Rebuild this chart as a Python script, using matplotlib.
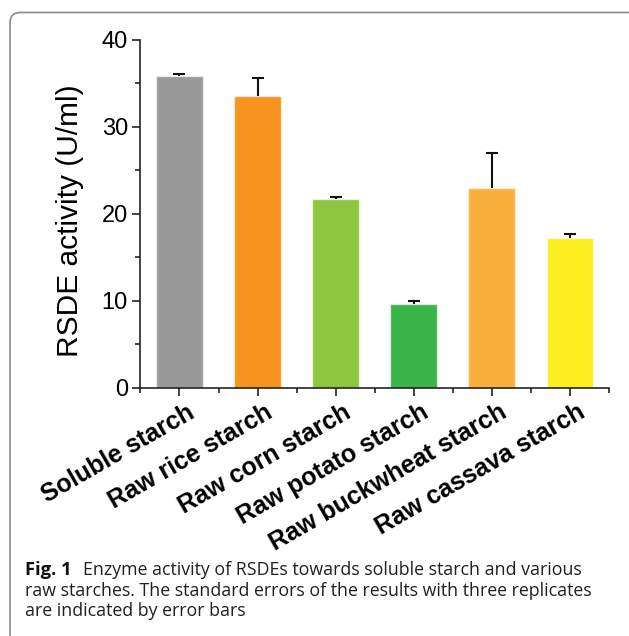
import matplotlib
matplotlib.use("Agg")
import matplotlib.pyplot as plt
import matplotlib.transforms as mtransforms
from matplotlib.patches import FancyBboxPatch
import numpy as np

categories = ["Soluble starch", "Raw rice starch", "Raw corn starch",
              "Raw potato starch", "Raw buckwheat starch", "Raw cassava starch"]
activity = [35.9, 33.6, 21.75, 9.65, 22.95, 17.2]
std_err = [0.2, 2.0, 0.15, 0.3, 4.05, 0.5]
bar_colors = ["#999999", "#F7931E", "#8DC63F", "#39B54A", "#FBB03B", "#FCEE21"]
y_ticks = [0, 10, 20, 30, 40]
y_label = "RSDE activity (U/ml)"
caption_bold = "Fig. 1"
caption_lines = ["Enzyme activity of RSDEs towards soluble starch and various",
                 "raw starches. The standard errors of the results with three replicates",
                 "are indicated by error bars"]

W, H = 629, 636
fig = plt.figure(figsize=(W / 100, H / 100), dpi=100)
plt.rcParams['font.family'] = ['Liberation Sans', 'DejaVu Sans']

# rounded border
border = FancyBboxPatch((10 / W, -0.1), 1.2, 1 - 12.5 / H + 0.1,
                        boxstyle="round,pad=0,rounding_size=0.016",
                        transform=fig.transFigure, fill=False,
                        edgecolor="#8a8a8a", linewidth=1.2, clip_on=False)
fig.patches.append(border)

ax = fig.add_axes([140.4 / W, 1 - 387.7 / H, (609 - 140.4) / W, (387.7 - 40) / H])
x = np.arange(len(categories))
ax.bar(x, activity, width=0.6, color=bar_colors, edgecolor=(1, 1, 1, 0.6),
       linewidth=1.0, zorder=2)
eb = ax.errorbar(x, activity, yerr=[np.zeros(len(activity)), std_err], fmt='none',
                 ecolor='#111111', elinewidth=1.5, capsize=4.6, capthick=1.5, zorder=3)
eb[1][0].set_visible(False)

ax.set_xlim(-0.5, 5.5)
ax.set_ylim(0, 40)
ax.set_yticks(y_ticks)
ax.set_yticks([5, 15, 25, 35], minor=True)
ax.set_xticks(x)
ax.set_xticks(np.arange(-0.5, 6.0, 1.0), minor=True)
for s in ['top', 'right']:
    ax.spines[s].set_visible(False)
for s in ['left', 'bottom']:
    ax.spines[s].set_linewidth(1.2)
    ax.spines[s].set_color('#222222')
ax.tick_params(axis='both', which='major', direction='out', length=6, width=1.2,
               color='#222222')
ax.tick_params(axis='both', which='minor', direction='out', length=3.5, width=1.2,
               color='#222222')
ax.tick_params(axis='y', labelsize=17, pad=3)
ax.set_xticklabels(categories, rotation=30, ha='right', rotation_mode='anchor',
                   fontsize=18, fontweight='bold', va='top')
ax.tick_params(axis='x', pad=3)
offset = mtransforms.ScaledTranslation(7 / 100, 0, fig.dpi_scale_trans)
for lab in ax.get_xticklabels():
    lab.set_transform(lab.get_transform() + offset)

ax.set_ylabel(y_label, fontsize=21.5)
ax.yaxis.label.set_va('center')
ax.yaxis.set_label_coords(-0.150, 0.479)

# caption
cap_font = ['Open Sans', 'DejaVu Sans']
renderer = fig.canvas.get_renderer()
probe = fig.text(25 / W, 1 - 596 / H, caption_lines[1], fontsize=12.6,
                 family=cap_font, color='#231F20')
w = probe.get_window_extent(renderer).width
fs = 12.6 * (593 - 25) / w
probe.set_fontsize(fs)

figlab = fig.text(25 / W, 1 - 575 / H, caption_bold, fontsize=fs + 0.4,
                  fontweight='bold', family=cap_font, color='#111111')
x1 = figlab.get_window_extent(renderer).x1
fig.text((x1 + 11) / W, 1 - 575 / H, caption_lines[0], fontsize=fs,
         family=cap_font, color='#231F20')
fig.text(25 / W, 1 - 616 / H, caption_lines[2], fontsize=fs, family=cap_font,
         color='#231F20')

fig.savefig("out.png", dpi=100)
